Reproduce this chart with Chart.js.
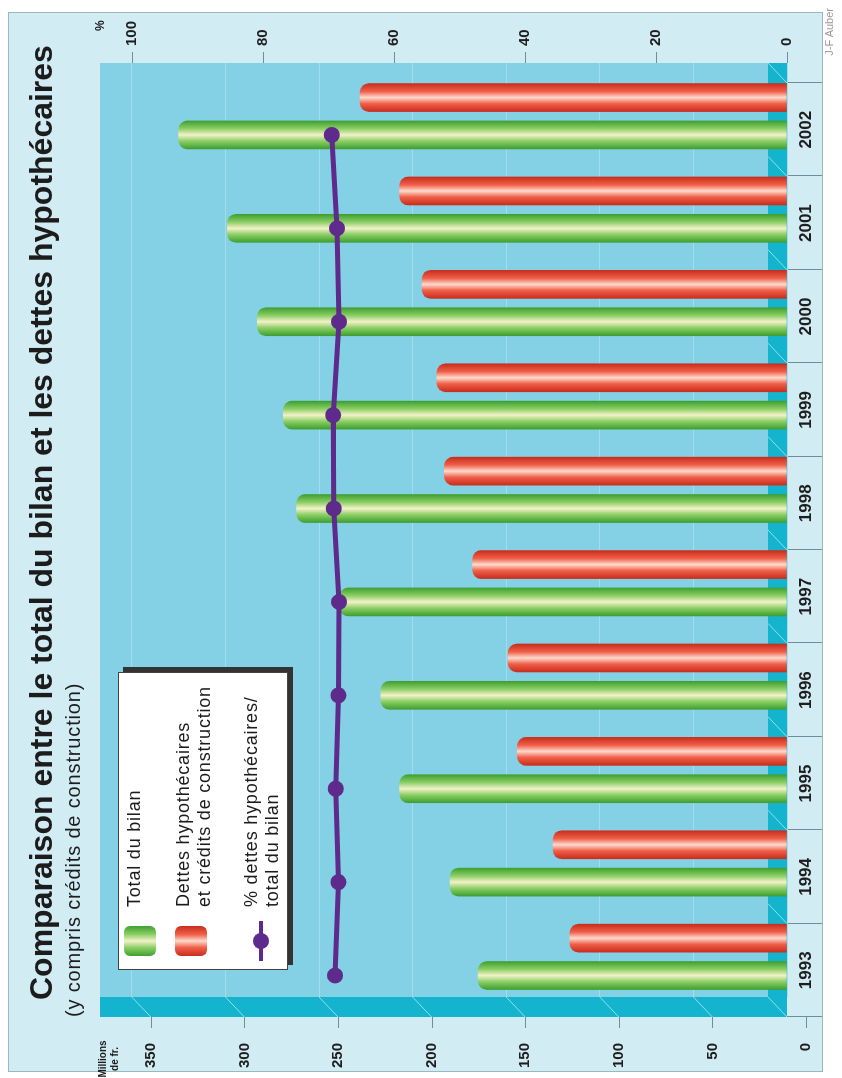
<!DOCTYPE html>
<html>
<head>
<meta charset="utf-8">
<script src="https://cdn.jsdelivr.net/npm/chart.js@4.4.1/dist/chart.umd.min.js"></script>
<style>
    html, body { margin: 0; padding: 0; background: #fff; width: 842px; height: 1078px; overflow: hidden; }
    /* the chart is laid out upright, then turned a quarter left like the printed page */
    #frame {
        position: absolute; left: -118px; top: 118px; width: 1078px; height: 842px;
        transform: rotate(-90deg);
        font-family: "Liberation Sans", Arial, sans-serif; color: #1c1c1c;
    }
    #frame canvas { position: absolute; left: 0; top: 0; }
    .txt { position: absolute; white-space: nowrap; }
    #title { left: 78px; top: 23px; font-size: 32px; font-weight: bold; line-height: 36px; }
    #subtitle { left: 61px; top: 62px; font-size: 20px; letter-spacing: 0.85px; line-height: 22px; }
    #unitLeft { left: 0; top: 97px; width: 38px; text-align: center; font-size: 10px; font-weight: bold; line-height: 12px; }
    #unitRight { left: 1047px; top: 93px; font-size: 12px; font-weight: bold; }
    #credit { right: 8px; top: 823px; font-size: 11px; color: #999; }
    #legend {
        position: absolute; left: 108px; top: 118px; width: 296px; height: 168px;
        background: #fff; border: 1px solid #444; box-shadow: 5px 5px 0 #333;
    }
    #legend .sw { position: absolute; left: 13px; width: 30px; height: 32px; border-radius: 6px; }
    #legend .lbl { position: absolute; left: 62px; font-size: 18px; letter-spacing: 0.8px; line-height: 21px; white-space: pre; }
    #legend .ln { position: absolute; left: 8px; width: 40px; height: 4px; }
    #legend .dot { position: absolute; left: 20px; width: 16px; height: 16px; border-radius: 50%; }
</style>
</head>
<body>
<div id="frame">
    <canvas id="chart" width="1078" height="842"></canvas>
    <div id="title" class="txt">Comparaison entre le total du bilan et les dettes hypothécaires</div>
    <div id="subtitle" class="txt">(y compris crédits de construction)</div>
    <div id="unitLeft" class="txt">Millions<br>de fr.</div>
    <div id="unitRight" class="txt">%</div>
    <div id="credit" class="txt">J-F Auber</div>
    <div id="legend"></div>
</div>
<script>
var years = ['1993', '1994', '1995', '1996', '1997', '1998', '1999', '2000', '2001', '2002'];
var totalBilan = [165, 180, 207, 217, 239, 262, 269, 283, 299, 325];
var dettesHypo = [116, 125, 144, 149, 168, 183, 187, 195, 207, 228];
var pctDettes = [69.0, 68.5, 68.9, 68.5, 68.4, 69.2, 69.3, 68.4, 68.7, 69.5];
var millionsTicks = [0, 50, 100, 150, 200, 250, 300, 350];
var pctTicks = [0, 20, 40, 60, 80, 100];
var seriesNames = ['Total du bilan', 'Dettes hypothécaires\net crédits de construction', '% dettes hypothécaires/\ntotal du bilan'];

var FONT = '"Liberation Sans", Arial, sans-serif';
var BAR_W = 28;
var SHIFT_GREEN = 0.27, SHIFT_RED = -0.13;   // tube position inside a year, in years
var DEPTH_U = 20, DEPTH_V = 19;              // 3D offset between back wall and front edge

var green = { edge: '#3f9f30', mid: '#8ccf66', light: '#f4f1c9' };
var red = { edge: '#c92d1d', mid: '#ef5f48', light: '#ffdacd' };
var purple = '#5e2a8c';

Chart.defaults.font.family = FONT;

function points(values) {
    return values.map(function (v, i) { return { x: i, y: v }; });
}

// gradient across each bar so it looks like a tube
function cylinder(col, axisId) {
    return function (c) {
        var chart = c.chart, xs = chart.scales[axisId];
        if (c.type !== 'data' || !xs || !chart.chartArea) return col.mid;
        var cx = xs.getPixelForValue(c.dataIndex);
        var half = BAR_W / 2;
        var g = chart.ctx.createLinearGradient(cx - half, 0, cx + half, 0);
        g.addColorStop(0, col.edge);
        g.addColorStop(0.28, col.mid);
        g.addColorStop(0.5, col.light);
        g.addColorStop(0.72, col.mid);
        g.addColorStop(1, col.edge);
        return g;
    };
}

function indexAxis(shift) {
    return {
        type: 'linear',
        offset: false,
        min: -0.5 + shift,
        max: years.length - 0.5 + shift,
        display: false,
        afterBuildTicks: function (s) {
            s.ticks = years.map(function (y, i) { return { value: i }; });
        }
    };
}

// panel, back wall, side wall and floor
var decor = {
    id: 'decor',
    beforeDraw: function (chart) {
        var ctx = chart.ctx, a = chart.chartArea, ys = chart.scales.y, xs = chart.scales.x;
        var catW = xs.width / years.length;
        ctx.save();
        ctx.fillStyle = '#d2ecf4';
        ctx.fillRect(6, 8, 1059, 814);
        ctx.strokeStyle = '#9bb8c0';
        ctx.lineWidth = 1;
        ctx.strokeRect(6.5, 8.5, 1059, 814);

        ctx.fillStyle = '#84d0e4';
        ctx.fillRect(a.left, a.top, a.width, a.height);

        // side wall
        ctx.fillStyle = '#15b4ce';
        ctx.fillRect(a.left - DEPTH_U, a.top, DEPTH_U, a.height);
        // floor
        ctx.beginPath();
        ctx.moveTo(a.left, a.bottom - DEPTH_V);
        ctx.lineTo(a.right, a.bottom - DEPTH_V);
        ctx.lineTo(a.right, a.bottom);
        ctx.lineTo(a.left - DEPTH_U, a.bottom);
        ctx.closePath();
        ctx.fill();

        ctx.strokeStyle = '#8fe1ef';
        ctx.beginPath();
        ys.ticks.forEach(function (t) {
            var p = ys.getPixelForValue(t.value);
            if (t.value === 0) return;
            ctx.moveTo(a.left, p);
            ctx.lineTo(a.left - DEPTH_U, p + DEPTH_V);
        });
        for (var k = 0; k <= years.length; k++) {
            var b = a.left + k * catW;
            ctx.moveTo(b, a.bottom - DEPTH_V);
            ctx.lineTo(b - DEPTH_U, a.bottom);
        }
        ctx.stroke();

        // tick marks of the front value axis
        ctx.strokeStyle = '#6d8f99';
        ctx.beginPath();
        ys.ticks.forEach(function (t) {
            var p = Math.round(ys.getPixelForValue(t.value) + DEPTH_V) + 0.5;
            ctx.moveTo(a.left - DEPTH_U, p);
            ctx.lineTo(a.left - DEPTH_U - 11, p);
        });
        // separators between the years
        for (var j = 0; j <= years.length; j++) {
            var s = Math.round(a.left + j * catW - DEPTH_U) + 0.5;
            ctx.moveTo(s, a.bottom);
            ctx.lineTo(s, 822);
        }
        ctx.stroke();
        ctx.restore();
    }
};

var ctx = document.getElementById('chart').getContext('2d');
var chart = new Chart(ctx, {
    type: 'bar',
    data: {
        labels: years,
        datasets: [{
            label: seriesNames[0],
            data: points(totalBilan),
            backgroundColor: cylinder(green, 'xg'),
            borderRadius: { topLeft: 9, topRight: 9 },
            borderSkipped: 'start',
            grouped: false,
            barThickness: BAR_W,
            xAxisID: 'xg',
            yAxisID: 'y',
            order: 2
        }, {
            label: seriesNames[1],
            data: points(dettesHypo),
            backgroundColor: cylinder(red, 'xr'),
            borderRadius: { topLeft: 9, topRight: 9 },
            borderSkipped: 'start',
            grouped: false,
            barThickness: BAR_W,
            xAxisID: 'xr',
            yAxisID: 'y',
            order: 2
        }, {
            type: 'line',
            label: seriesNames[2],
            data: points(pctDettes),
            xAxisID: 'xg',
            yAxisID: 'y1',
            borderColor: purple,
            borderWidth: 5,
            pointRadius: 8,
            pointBackgroundColor: purple,
            pointBorderWidth: 0,
            tension: 0,
            order: 1
        }]
    },
    options: {
        responsive: false,
        animation: false,
        events: [],
        layout: { padding: { top: 100, bottom: 20, left: 0, right: 0 } },
        plugins: {
            legend: { display: false },
            tooltip: { enabled: false },
            title: { display: false }
        },
        scales: {
            x: {
                type: 'category',
                offset: true,
                grid: { display: false, drawTicks: false },
                border: { display: false },
                ticks: {
                    labelOffset: -DEPTH_U,
                    padding: 9,
                    maxRotation: 0,
                    autoSkip: false,
                    color: '#1e1e1e',
                    font: { size: 17, weight: 'bold' }
                },
                afterFit: function (s) { s.height = 35; }
            },
            xg: indexAxis(SHIFT_GREEN),
            xr: indexAxis(SHIFT_RED),
            y: {
                position: 'left',
                min: 0,
                max: 367,
                afterBuildTicks: function (s) {
                    s.ticks = millionsTicks.map(function (v) { return { value: v }; });
                },
                grid: { color: '#a3dcec', drawTicks: false },
                border: { display: false },
                ticks: {
                    labelOffset: DEPTH_V,
                    padding: 46,
                    color: '#1e1e1e',
                    font: { size: 15, weight: 'bold' }
                },
                afterFit: function (s) { s.width = 81; }
            },
            y1: {
                position: 'right',
                min: 0,
                max: 104.9,
                afterBuildTicks: function (s) {
                    s.ticks = pctTicks.map(function (v) { return { value: v }; });
                },
                grid: { drawOnChartArea: false, tickLength: 11, tickColor: '#6d8f99' },
                border: { display: false },
                ticks: {
                    padding: 6,
                    color: '#1e1e1e',
                    font: { size: 15, weight: 'bold' }
                },
                afterFit: function (s) { s.width = 63; }
            }
        }
    },
    plugins: [decor]
});

// legend box, built from the series names and colours
var legend = document.getElementById('legend');
function tube(col) {
    return 'linear-gradient(to right,' + col.edge + ' 0%,' + col.mid + ' 28%,' + col.light + ' 50%,' + col.mid + ' 72%,' + col.edge + ' 100%)';
}
var items = [
    { kind: 'bar', col: green, swTop: 5, lblTop: 5 },
    { kind: 'bar', col: red, swTop: 56, lblTop: 54 },
    { kind: 'line', top: 142, lblTop: 122 }
];
items.forEach(function (it, i) {
    if (it.kind === 'bar') {
        var sw = document.createElement('div');
        sw.className = 'sw';
        sw.style.top = it.swTop + 'px';
        sw.style.background = tube(it.col);
        legend.appendChild(sw);
    } else {
        var ln = document.createElement('div');
        ln.className = 'ln';
        ln.style.top = (it.top - 2) + 'px';
        ln.style.background = purple;
        legend.appendChild(ln);
        var dot = document.createElement('div');
        dot.className = 'dot';
        dot.style.top = (it.top - 8) + 'px';
        dot.style.background = purple;
        legend.appendChild(dot);
    }
    var lbl = document.createElement('div');
    lbl.className = 'lbl';
    lbl.style.top = it.lblTop + 'px';
    lbl.textContent = seriesNames[i];
    legend.appendChild(lbl);
});
</script>
</body>
</html>
